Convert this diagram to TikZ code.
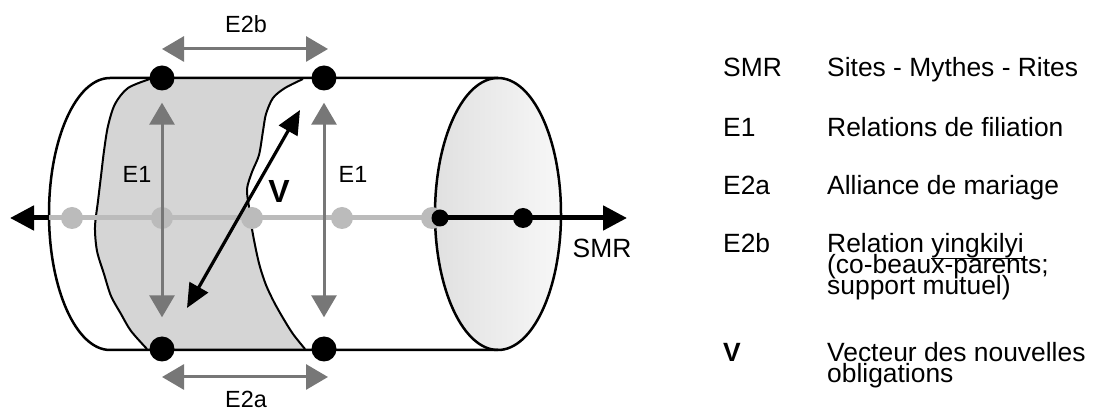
\documentclass[tikz,border=0pt]{standalone}
\usepackage{fontspec}
\setmainfont{Liberation Sans}
\usetikzlibrary{arrows.meta}
\definecolor{ink}{HTML}{000000}
\definecolor{shadow}{HTML}{D5D5D5}
\definecolor{axisgrey}{HTML}{BBBBBB}
\definecolor{arrowgrey}{HTML}{777777}
\newcommand{\ulword}[1]{\leavevmode\smash{\vtop{\hbox{#1}\kern-0.5pt\hrule height 1.3pt}}}
\newcommand{\legendfont}{\fontsize{26.4}{21}\selectfont\setlength{\lineskiplimit}{-50pt}}
\newcommand{\tagfont}{\fontsize{23.4}{24}\selectfont}
\tikzset{
  label/.style={font=\tagfont, text=ink, inner sep=0pt, anchor=base},
  legend/.style={font=\legendfont, text=ink, inner sep=0pt, anchor=base west, align=left},
  outline/.style={draw=ink, line width=2.5pt},
  wavy/.style={draw=ink, line width=2pt},
  cornerdot/.style={circle, fill=ink, minimum size=25pt, inner sep=0pt},
  axisdot/.style={circle, fill=ink, minimum size=20pt, inner sep=0pt},
  greydot/.style={circle, fill=axisgrey, minimum size=22pt, inner sep=0pt},
  axis/.style={draw=axisgrey, line width=5pt},
  greyarrow/.style={{Triangle[length=22pt,width=25pt]}-{Triangle[length=22pt,width=25pt]},
    draw=arrowgrey, line width=3pt},
  blackarrow/.style={-{Triangle[length=24pt,width=24pt]}, draw=ink, line width=5pt},
  vector/.style={{Triangle[length=24pt,width=21pt]}-{Triangle[length=24pt,width=21pt]},
    draw=ink, line width=3.2pt}
}

\begin{document}
\begin{tikzpicture}[x=1pt,y=-1pt]
\useasboundingbox (0,0) rectangle (1096,411);

% Cylinder end cap
\shade[left color=black!12, right color=black!3] (498,214) ellipse [x radius=63pt, y radius=136pt];
\draw[outline] (498,214) ellipse [x radius=63pt, y radius=136pt];

% Shaded band
\fill[shadow] plot[smooth] coordinates {(147,349) (131,331) (121,314) (111,296) (104,274)
    (97,251) (95,227) (98,201) (101,176) (104,151) (108,126) (115,104) (128,88) (150,79)}
  -- plot[smooth] coordinates {(303,79) (285,88) (273,98) (266,114) (263,131) (259,155)
    (252,172) (247,189) (249,207) (252,229) (256,250) (260,267) (266,285) (274,302)
    (283,318) (293,334) (305,349)} -- cycle;

% Cylinder body
\draw[outline] (498,78) -- (110,78)
  arc[start angle=90, end angle=270, x radius=61pt, y radius=136pt] -- (498,350);

% Band edges
\draw[wavy] plot[smooth] coordinates {(147,349) (131,331) (121,314) (111,296) (104,274)
    (97,251) (95,227) (98,201) (101,176) (104,151) (108,126) (115,104) (128,88) (150,79)};
\draw[wavy] plot[smooth] coordinates {(303,79) (285,88) (273,98) (266,114) (263,131) (259,155)
    (252,172) (247,189) (249,207) (252,229) (256,250) (260,267) (266,285) (274,302)
    (283,318) (293,334) (305,349)};

% Axis
\coordinate (lefttip) at (10,218);
\coordinate (leftrim) at (49,218);
\coordinate (caprim) at (437,218);
\coordinate (smrtip) at (627,218);
\draw[axis] (leftrim) -- (caprim);
\draw[blackarrow] (leftrim) -- (lefttip);
\draw[blackarrow] (caprim) -- (smrtip);
\node[greydot] (g1) at (72,218) {};
\node[greydot] (g2) at (162,218) {};
\node[greydot] (g3) at (252,218) {};
\node[greydot] (g4) at (342,218) {};
\node[greydot] (g5) at (432,218) {};
\node[axisdot, minimum size=17pt] (a1) at (440,218) {};
\node[axisdot] (a2) at (523,218) {};

% Corner dots
\node[cornerdot] (tl) at (162,78) {};
\node[cornerdot] (tr) at (324,78) {};
\node[cornerdot] (bl) at (162,349) {};
\node[cornerdot] (br) at (324,349) {};

% Relations
\draw[greyarrow, shorten <=12pt, shorten >=19pt] (tl) -- (bl);
\draw[greyarrow, shorten <=12pt, shorten >=19pt] (tr) -- (br);
\coordinate (e2bl) at (162,49);
\coordinate (e2br) at (328,49);
\coordinate (e2al) at (162,377);
\coordinate (e2ar) at (328,377);
\draw[greyarrow] (e2bl) -- (e2br);
\draw[greyarrow] (e2al) -- (e2ar);
\coordinate (vlow) at (187,308);
\coordinate (vhigh) at (300,110);
\draw[vector] (vlow) -- (vhigh);

% Labels
\node[label] (lbE2b) at (246,33) {E2b};
\node[label] (lbE2a) at (246,408) {E2a};
\node[label] (lbE1l) at (137,183) {E1};
\node[label] (lbE1r) at (353,183) {E1};
\node[label, font=\fontsize{32}{34}\selectfont\bfseries] (lbV) at (279,203) {V};
\node[label, font=\legendfont] (lbSMR) at (602,258) {SMR};

% Legend
\node[legend] (kSMR) at (723,77) {SMR};
\node[legend] (dSMR) at (827,77) {Sites - Mythes - Rites};
\node[legend] (kE1) at (723,137) {E1};
\node[legend] (dE1) at (827,137) {Relations de filiation};
\node[legend] (kE2a) at (723,195) {E2a};
\node[legend] (dE2a) at (827,195) {Alliance de mariage};
\node[legend] (kE2b) at (723,253) {E2b};
\node[legend] (dE2b) at (827,295) {Relation \ulword{yingkilyi}\\(co-beaux-parents;\\support mutuel)};
\node[legend, font=\legendfont\bfseries] (kV) at (723,362) {V};
\node[legend] (dV) at (827,383) {Vecteur des nouvelles\\obligations};

\end{tikzpicture}
\end{document}
